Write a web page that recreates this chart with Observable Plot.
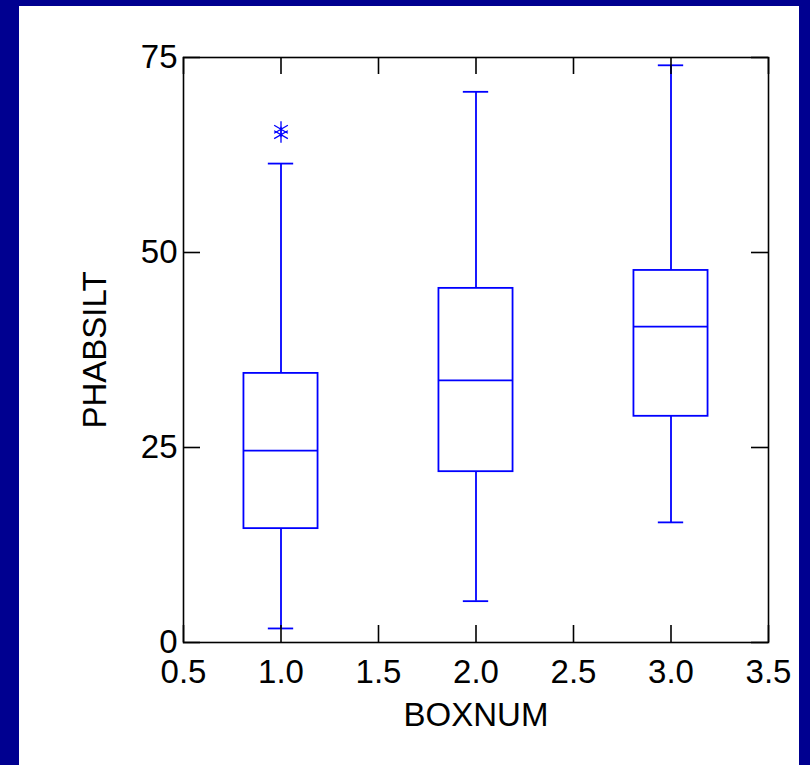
<!DOCTYPE html>
<html>
<head>
<meta charset="utf-8">
<script src="https://cdn.jsdelivr.net/npm/d3@7"></script>
<script src="https://cdn.jsdelivr.net/npm/@observablehq/plot@0.6"></script>
<style>
  html, body { margin: 0; padding: 0; width: 810px; height: 765px; overflow: hidden; background: #000090; }
  #panel { position: absolute; left: 19px; top: 6px; width: 780px; height: 759px; background: #ffffff; }
  svg { display: block; }
</style>
</head>
<body>
<div id="panel"></div>
<script>
// ---- data ----
const boxX = [1, 2, 3];
const lowerWhisker = [1.8, 5.3, 15.4];
const q1 = [14.6, 21.9, 29.0];
const median = [24.6, 33.6, 40.5];
const q3 = [34.5, 45.4, 47.7];
const upperWhisker = [61.4, 70.6, 74.0];
const outlierX = [1, 1];
const outlierY = [65.8, 65.1];
const xTicks = [0.5, 1.0, 1.5, 2.0, 2.5, 3.0, 3.5];
const yTicks = [0, 25, 50, 75];
const xTitle = "BOXNUM";
const yTitle = "PHABSILT";

// ---- layout / style ----
const W = 780, H = 759;
const mL = 164, mR = 31, mT = 51, mB = 123;
const innerH = H - mT - mB, innerW = W - mL - mR;
const boxHalf = 0.19, capHalf = 0.065;
const blue = "#0000ff";
const lw = 1.8;
const font = "'Liberation Sans', Arial, Helvetica, sans-serif";
const fs = 33;
const tickLen = 17;

const rows = boxX.map((x, i) => ({
  x, lo: lowerWhisker[i], q1: q1[i], med: median[i], q3: q3[i], hi: upperWhisker[i]
}));
const outliers = outlierX.map((x, i) => ({x, y: outlierY[i]}));

const chart = Plot.plot({
  width: W,
  height: H,
  marginLeft: mL, marginRight: mR, marginTop: mT, marginBottom: mB,
  style: { fontFamily: font, background: "white", color: "black" },
  x: { domain: [0.5, 3.5], axis: null },
  y: { domain: [0, 75], axis: null },
  marks: [
    // whiskers
    Plot.ruleX(rows, { x: "x", y1: "q3", y2: "hi", stroke: blue, strokeWidth: lw }),
    Plot.ruleX(rows, { x: "x", y1: "lo", y2: "q1", stroke: blue, strokeWidth: lw }),
    // caps
    Plot.ruleY(rows, { y: "hi", x1: d => d.x - capHalf, x2: d => d.x + capHalf, stroke: blue, strokeWidth: lw }),
    Plot.ruleY(rows, { y: "lo", x1: d => d.x - capHalf, x2: d => d.x + capHalf, stroke: blue, strokeWidth: lw }),
    // boxes
    Plot.rect(rows, { x1: d => d.x - boxHalf, x2: d => d.x + boxHalf, y1: "q1", y2: "q3", fill: "none", stroke: blue, strokeWidth: lw }),
    // medians
    Plot.ruleY(rows, { y: "med", x1: d => d.x - boxHalf, x2: d => d.x + boxHalf, stroke: blue, strokeWidth: lw }),
    // outliers
    Plot.dot(outliers, { x: "x", y: "y", symbol: "asterisk", r: 7.5, stroke: blue, strokeWidth: 1.3 }),
    // inward ticks
    Plot.tickX(xTicks, { x: d => d, insetTop: innerH - tickLen, stroke: "black", strokeWidth: 1.6 }),
    Plot.tickX(xTicks, { x: d => d, insetBottom: innerH - tickLen, stroke: "black", strokeWidth: 1.6 }),
    Plot.tickY(yTicks, { y: d => d, insetRight: innerW - tickLen, stroke: "black", strokeWidth: 1.6 }),
    Plot.tickY(yTicks, { y: d => d, insetLeft: innerW - tickLen, stroke: "black", strokeWidth: 1.6 }),
    Plot.frame({ stroke: "black", strokeWidth: 1.6 }),
    // tick labels
    Plot.axisX(xTicks, { anchor: "bottom", tickSize: 0, tickPadding: 17, fontSize: fs, tickFormat: d3.format(".1f"), label: null, fill: "black" }),
    Plot.axisY(yTicks, { anchor: "left", tickSize: 0, tickPadding: 6, fontSize: fs, tickFormat: d3.format("d"), label: null, fill: "black" }),
    // axis titles
    Plot.text([xTitle], { text: d => d, frameAnchor: "bottom", textAnchor: "middle", lineAnchor: "middle", dy: 73, fontSize: fs, fill: "black" }),
    Plot.text([yTitle], { text: d => d, frameAnchor: "left", textAnchor: "middle", lineAnchor: "middle", rotate: -90, dx: -88, fontSize: fs, fill: "black" })
  ]
});
document.getElementById("panel").appendChild(chart);
</script>
</body>
</html>
